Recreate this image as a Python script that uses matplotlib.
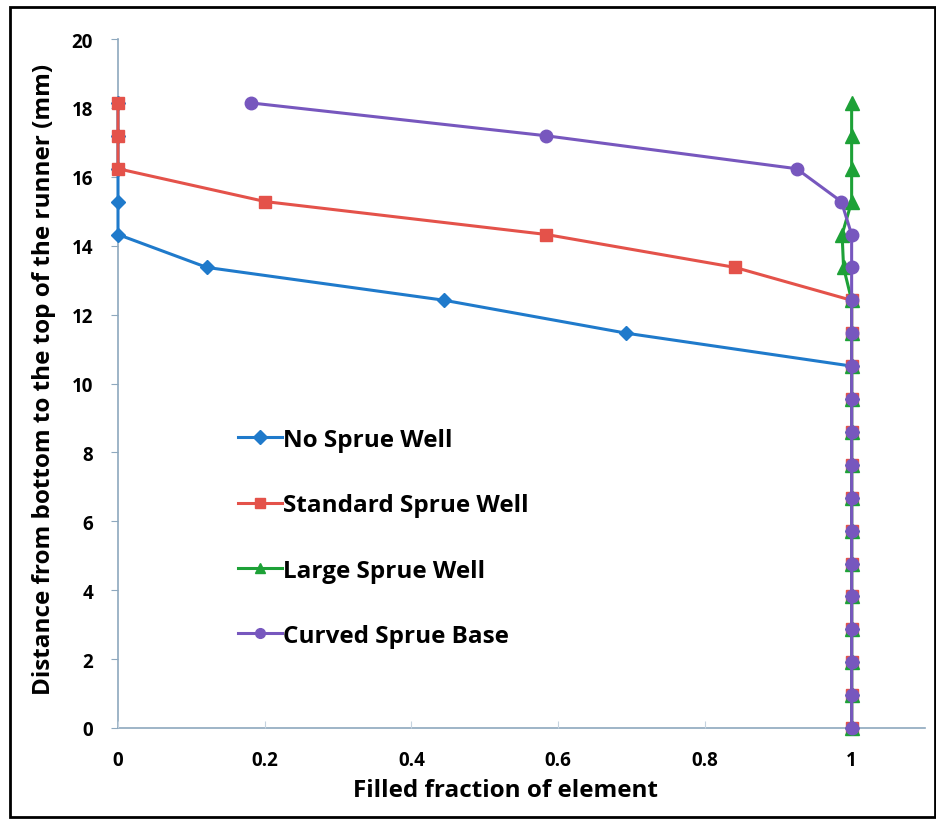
import numpy as np
import matplotlib
matplotlib.use("Agg")
import matplotlib.pyplot as plt
from matplotlib.patches import Rectangle

plt.rcParams['font.family'] = ['Open Sans', 'DejaVu Sans']
plt.rcParams['font.weight'] = 'bold'

# =========================
# DATA
# =========================
# height levels of the elements along the runner (mm)
levels = [0.0, 0.955, 1.91, 2.865, 3.82, 4.775, 5.73, 6.685, 7.64, 8.595,
          9.55, 10.505, 11.46, 12.415, 13.37, 14.325, 15.28, 16.235, 17.19, 18.145]

no_well_x = [1, 1, 1, 1, 1, 1, 1, 1, 1, 1, 1, 1.0, 0.693, 0.445, 0.121, 0, 0, 0, 0, 0]
std_well_x = [1, 1, 1, 1, 1, 1, 1, 1, 1, 1, 1, 1, 1, 1.0, 0.841, 0.584, 0.201, 0, 0, 0]
large_well_x = [1, 1, 1, 1, 1, 1, 1, 1, 1, 1, 1, 1, 1, 1.0, 0.989, 0.987, 1, 1, 1, 1]
curved_x = [1, 1, 1, 1, 1, 1, 1, 1, 1, 1, 1, 1, 1, 1, 1, 1.0, 0.986, 0.925, 0.584, 0.181]

series_names = ["No Sprue Well", "Standard Sprue Well", "Large Sprue Well", "Curved Sprue Base"]

x_ticks = [0, 0.2, 0.4, 0.6, 0.8, 1]
x_ticklabels = ["0", "0.2", "0.4", "0.6", "0.8", "1"]
y_ticks = [0, 2, 4, 6, 8, 10, 12, 14, 16, 18, 20]

# =========================
# PLOT
# =========================
fig = plt.figure(figsize=(9.37, 8.2), dpi=100)
ax = fig.add_axes([118 / 937, 1 - 729 / 820, (925 - 118) / 937, (729 - 40) / 820])

ax.plot(no_well_x, levels, color="#1F7ACB", lw=2.2, marker="D", ms=7,
        label=series_names[0], clip_on=False)
ax.plot(std_well_x, levels, color="#E4524A", lw=2.2, marker="s", ms=9,
        label=series_names[1], clip_on=False)
ax.plot(large_well_x, levels, color="#1DA137", lw=2.2, marker="^", ms=10,
        label=series_names[2], clip_on=False)
ax.plot(curved_x, levels, color="#7757BE", lw=2.2, marker="o", ms=9,
        label=series_names[3], clip_on=False)

ax.set_xlim(0, 1.1)
ax.set_ylim(0, 20)
ax.set_xticks(x_ticks)
ax.set_xticklabels(x_ticklabels)
ax.set_yticks(y_ticks)

for side in ["top", "right"]:
    ax.spines[side].set_visible(False)
for side in ["left", "bottom"]:
    ax.spines[side].set_color("#8EA8BE")
    ax.spines[side].set_linewidth(1.2)
    ax.spines[side].set_zorder(0)

ax.tick_params(axis="y", direction="out", length=5, color="#8EA8BE", labelsize=13.5, pad=13)
ax.tick_params(axis="x", direction="in", length=5, color="#C5D3DF", labelsize=13.5, pad=16)

ax.set_xlabel("Filled fraction of element", fontsize=17.5, fontweight="bold", labelpad=5)
ax.set_ylabel("Distance from bottom to the top of the runner (mm)", fontsize=17.5,
              fontweight="bold", labelpad=9)
ax.xaxis.set_label_coords(0.48, -0.072)
ax.yaxis.set_label_coords(-0.077, 0.508)

leg = ax.legend(loc="upper left", bbox_to_anchor=(238 / 937, 1 - 429 / 820),
                bbox_transform=fig.transFigure, frameon=False, fontsize=17.5,
                handlelength=1.8, handletextpad=0.05, labelspacing=1.7,
                borderpad=0, borderaxespad=0)
for line in leg.get_lines():
    line.set_markersize(7)

# outer frame around the whole figure
fig.patches.append(Rectangle((10 / 937, 2 / 820), 925 / 937, 810 / 820, transform=fig.transFigure,
                             fill=False, edgecolor="black", linewidth=2))

fig.savefig("out.png", dpi=100)
